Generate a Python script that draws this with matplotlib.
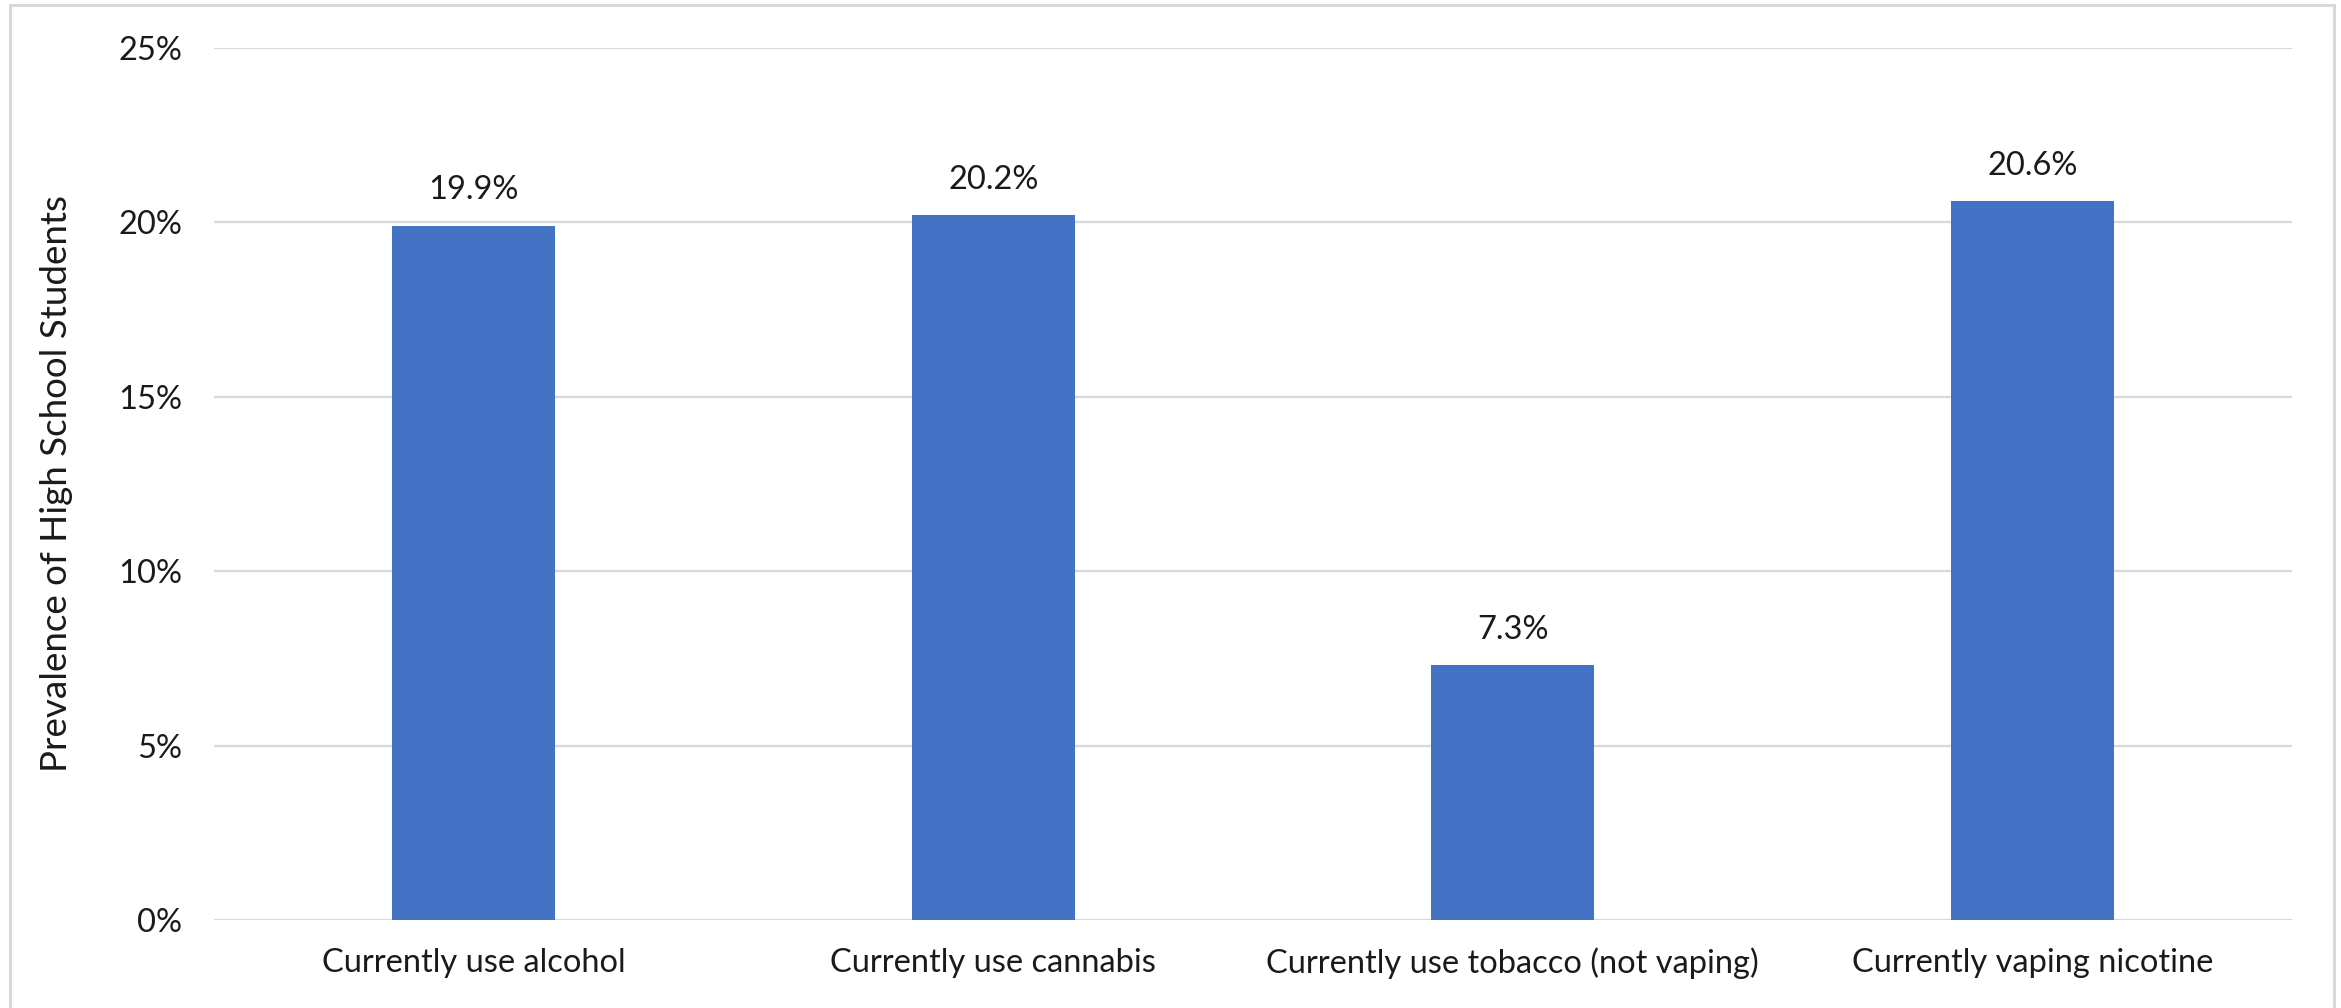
import matplotlib.pyplot as plt
from matplotlib.patches import Rectangle
from matplotlib.ticker import PercentFormatter

categories = ["Currently use alcohol", "Currently use cannabis",
              "Currently use tobacco (not vaping)", "Currently vaping nicotine"]
prevalence = [19.9, 20.2, 7.3, 20.6]
y_ticks = [0, 5, 10, 15, 20, 25]

plt.rcParams['font.family'] = ['Lato', 'DejaVu Sans']
text_color = "#1a1a1a"
grid_color = "#d9d9d9"
bar_color = "#4472c4"
fs = 23.5

fig = plt.figure(figsize=(23.41, 10.08), dpi=100)
ax = fig.add_axes([0.0914, 0.0873, 0.8877, 0.8651])

x = range(len(categories))
bars = ax.bar(x, prevalence, width=0.313, color=bar_color, zorder=3)

for b, v in zip(bars, prevalence):
    ax.annotate(f"{v:.1f}%", (b.get_x() + b.get_width() / 2, v),
                xytext=(0, 15), textcoords="offset points",
                ha="center", va="bottom", fontsize=fs, color=text_color)

ax.set_xlim(-0.5, len(categories) - 0.5)
ax.set_ylim(0, 25)
ax.set_yticks(y_ticks)
ax.yaxis.set_major_formatter(PercentFormatter(decimals=0))
ax.set_xticks(list(x))
ax.set_xticklabels(categories)
ax.tick_params(axis="both", length=0, labelsize=fs, colors=text_color)
ax.tick_params(axis="x", pad=20)
ax.tick_params(axis="y", pad=23)
ax.grid(axis="y", color=grid_color, linewidth=1.6, zorder=0)
for s in ax.spines.values():
    s.set_visible(False)
ax.set_ylabel("Prevalence of High School Students", fontsize=26.5,
              color=text_color)
ax.yaxis.set_label_coords(-0.068, 0.5)

# outer chart border (bottom edge falls below the image)
fig.patches.append(Rectangle((10 / 2341, -0.05), 2324 / 2341, 1.05 - 5 / 1008,
                             transform=fig.transFigure, fill=False,
                             edgecolor=grid_color, linewidth=2.2))

plt.savefig("out.png", dpi=100)
